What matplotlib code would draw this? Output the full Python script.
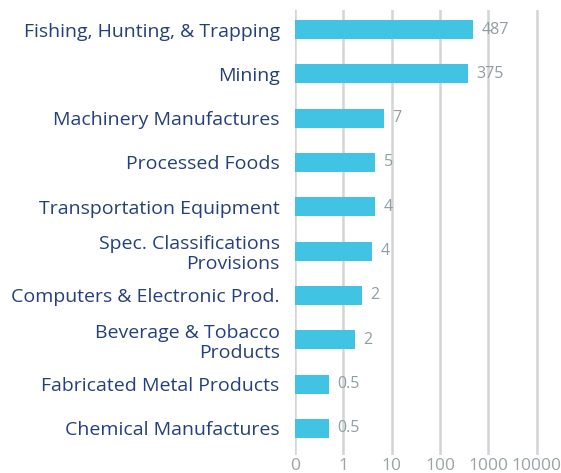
import numpy as np
import matplotlib.pyplot as plt
from matplotlib.ticker import FixedLocator, FixedFormatter, NullLocator

categories = ["Fishing, Hunting, & Trapping", "Mining", "Machinery Manufactures",
              "Processed Foods", "Transportation Equipment",
              "Spec. Classifications\nProvisions", "Computers & Electronic Prod.",
              "Beverage & Tobacco\nProducts", "Fabricated Metal Products",
              "Chemical Manufactures"]
values = [487, 375, 7.0, 4.6, 4.6, 3.9, 2.4, 1.7, 0.5, 0.5]
value_labels = ["487", "375", "7", "5", "4", "4", "2", "2", "0.5", "0.5"]
tick_values = [0.1, 1, 10, 100, 1000, 10000]
tick_labels = ["0", "1", "10", "100", "1000", "10000"]

plt.rcParams['font.family'] = ['Open Sans', 'DejaVu Sans']

fig = plt.figure(figsize=(5.61, 4.73), dpi=100)
ax = fig.add_axes([295/561, 1-455/473, 266/561, 445/473])

y = np.arange(len(categories))
base = 0.1
ax.barh(y, np.array(values) - base, left=base, height=0.43, color="#41c4e3", zorder=3)
for yi, v, lab in zip(y, values, value_labels):
    ax.annotate(lab, (v, yi), xytext=(6, 0), textcoords="offset points",
                va="center", ha="left", fontsize=11.5, color="#8f9ea4", zorder=4)

ax.set_xscale("log")
ax.set_xlim(0.1, 10**4.5)
ax.set_ylim(9.6, -0.44)
ax.xaxis.set_major_locator(FixedLocator(tick_values))
ax.xaxis.set_major_formatter(FixedFormatter(tick_labels))
ax.xaxis.set_minor_locator(NullLocator())
ax.set_yticks(y)
ax.set_yticklabels(categories, fontsize=14, color="#24407c", linespacing=1.15)
ax.tick_params(axis="y", length=0, pad=11)
ax.tick_params(axis="x", length=0, pad=2, labelsize=12.5, labelcolor="#9aa3a6")
ax.grid(axis="x", color="#d4d4d4", linewidth=1.8, zorder=0)
for s in ax.spines.values():
    s.set_visible(False)

plt.savefig("out.png", dpi=100)
plt.close()
